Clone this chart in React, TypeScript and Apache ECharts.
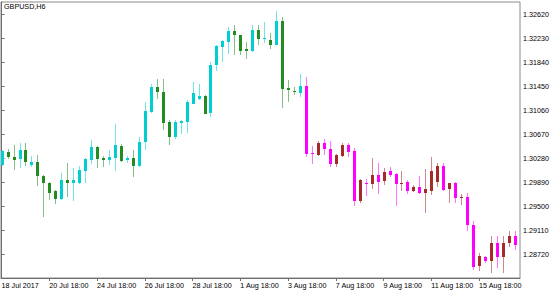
import React, { useEffect, useRef } from "react";
import * as echarts from "echarts";

const symbolTitle = "GBPUSD,H6";

const opens = [
  1.30167, 1.30391, 1.3031, 1.30268, 1.30419, 1.30175, 1.30229, 1.29997, 1.29888, 1.29742,
  1.29619, 1.29927, 1.29878, 1.29878, 1.30083, 1.30256, 1.30462, 1.30294, 1.30256, 1.30284,
  1.30488, 1.30256, 1.30284, 1.30164, 1.30544, 1.3104, 1.31436, 1.31364, 1.30873, 1.30634,
  1.30861, 1.30873, 1.3117, 1.31241, 1.3129, 1.31019, 1.31793, 1.3209, 1.32171, 1.32344,
  1.32279, 1.32052, 1.3203, 1.3236, 1.32224, 1.32203, 1.32127, 1.32511, 1.31424, 1.31368,
  1.31348, 1.31457, 1.30375, 1.30333, 1.30537, 1.3044, 1.30196, 1.30321, 1.305, 1.30407,
  1.2958, 1.29888, 1.29867, 1.30013, 1.29916, 1.30067, 1.30029, 1.29872, 1.29904, 1.29758,
  1.29813, 1.29716, 1.29758, 1.29904, 1.30159, 1.29781, 1.29878, 1.29629, 1.29645, 1.29197,
  1.28525, 1.28678, 1.28606, 1.28905, 1.28671, 1.28905, 1.29012,
];

const closes = [
  1.30402, 1.3031, 1.30256, 1.30419, 1.30229, 1.30229, 1.29997, 1.29878, 1.29716, 1.29619,
  1.29927, 1.29878, 1.29932, 1.30094, 1.30268, 1.30462, 1.30277, 1.30256, 1.303, 1.30495,
  1.30245, 1.30294, 1.30164, 1.30553, 1.31051, 1.31436, 1.31355, 1.30861, 1.30625, 1.30878,
  1.30889, 1.31197, 1.31348, 1.3129, 1.31007, 1.31802, 1.32106, 1.32187, 1.32344, 1.32279,
  1.3203, 1.32025, 1.3236, 1.32224, 1.3224, 1.32127, 1.32511, 1.31413, 1.31387, 1.31351,
  1.31457, 1.30359, 1.30349, 1.30537, 1.3043, 1.30196, 1.30342, 1.30495, 1.30391, 1.29591,
  1.29932, 1.29867, 1.30013, 1.29904, 1.30062, 1.30013, 1.29867, 1.29888, 1.29742, 1.29813,
  1.29716, 1.29781, 1.30067, 1.30159, 1.2977, 1.29878, 1.29629, 1.29645, 1.2919, 1.28516,
  1.28699, 1.28606, 1.28905, 1.28671, 1.28905, 1.29012, 1.28877,
];

const highs = [
  1.30419, 1.3044, 1.30495, 1.30527, 1.30527, 1.30321, 1.30337, 1.30013, 1.29904, 1.2977,
  1.30041, 1.30203, 1.30122, 1.30159, 1.30289, 1.30581, 1.30475, 1.30321, 1.30419, 1.30836,
  1.30516, 1.30321, 1.30419, 1.30625, 1.31202, 1.31489, 1.31566, 1.31575, 1.30905, 1.30905,
  1.30897, 1.31235, 1.31522, 1.31494, 1.31306, 1.31846, 1.32117, 1.32195, 1.32414, 1.32442,
  1.32292, 1.32171, 1.32442, 1.32442, 1.32495, 1.32317, 1.32674, 1.32576, 1.31549, 1.31441,
  1.31656, 1.31603, 1.30483, 1.3056, 1.30602, 1.3056, 1.30359, 1.30527, 1.30527, 1.30446,
  1.29943, 1.29943, 1.30284, 1.30203, 1.30122, 1.30148, 1.30041, 1.30067, 1.29932, 1.29851,
  1.29997, 1.30105, 1.3031, 1.30203, 1.30203, 1.29888, 1.29895, 1.29705, 1.29716, 1.29255,
  1.28743, 1.28699, 1.29012, 1.29023, 1.29023, 1.29093, 1.29093,
];

const lows = [
  1.30159, 1.30268, 1.30094, 1.30122, 1.30159, 1.30148, 1.29835, 1.29327, 1.29607, 1.29543,
  1.29607, 1.29656, 1.2958, 1.29867, 1.29878, 1.30191, 1.30122, 1.30138, 1.30175, 1.30067,
  1.30229, 1.30203, 1.29985, 1.30148, 1.30419, 1.31024, 1.31241, 1.30743, 1.305, 1.30602,
  1.30683, 1.30694, 1.3116, 1.3123, 1.30998, 1.30954, 1.317, 1.31846, 1.31971, 1.31955,
  1.31955, 1.319, 1.32008, 1.32127, 1.32159, 1.32062, 1.32114, 1.311, 1.31197, 1.31316,
  1.31278, 1.30305, 1.30196, 1.30321, 1.30342, 1.30143, 1.30143, 1.303, 1.303, 1.2951,
  1.29554, 1.29672, 1.29781, 1.29705, 1.29851, 1.29985, 1.29499, 1.29758, 1.29705, 1.29726,
  1.29705, 1.29392, 1.29689, 1.29823, 1.29753, 1.29554, 1.29554, 1.29526, 1.29093, 1.28472,
  1.28444, 1.28581, 1.28418, 1.28499, 1.28418, 1.2884, 1.28796,
];

// index of the first bar drawn in the down-trend colour scheme
const downtrendStart = 51;

const timeTickIndices = [0, 8, 16, 24, 32, 40, 48, 56, 64, 72, 80];
const timeTickLabels = [
  "18 Jul 2017",
  "20 Jul 18:00",
  "24 Jul 18:00",
  "26 Jul 18:00",
  "28 Jul 18:00",
  "1 Aug 18:00",
  "3 Aug 18:00",
  "7 Aug 18:00",
  "9 Aug 18:00",
  "11 Aug 18:00",
  "15 Aug 18:00",
];

const priceTicks = [
  1.2872, 1.2911, 1.295, 1.2989, 1.3028, 1.3067, 1.3106, 1.3145, 1.3184, 1.3223, 1.3262,
];

const CYAN = "#00CED1";
const GREEN = "#228B22";
const MAGENTA = "#FF00FF";
const BROWN = "#A52A2A";
const AXIS = "#6e6e6e";
const FONT = "'Liberation Sans', Arial, sans-serif";

export default function App() {
  const ref = useRef<HTMLDivElement>(null);

  useEffect(() => {
    const chart = echarts.init(ref.current!, null, { renderer: "svg" });
    const data = opens.map((o, i) => [i, o, closes[i], lows[i], highs[i]]);

    const renderItem = (params: any, api: any) => {
      const i = api.value(0);
      const o = api.value(1);
      const c = api.value(2);
      const l = api.value(3);
      const h = api.value(4);
      const pO = api.coord([i, o]);
      const pC = api.coord([i, c]);
      const pL = api.coord([i, l]);
      const pH = api.coord([i, h]);
      const cx = Math.round(pO[0]);
      const up = c >= o;
      const downTrend = i >= downtrendStart;
      const color = downTrend ? (up ? BROWN : MAGENTA) : up ? CYAN : GREEN;
      const top = Math.round(Math.min(pO[1], pC[1]));
      const bot = Math.round(Math.max(pO[1], pC[1]));
      return {
        type: "group",
        children: [
          {
            type: "line",
            shape: { x1: cx + 0.5, y1: Math.round(pH[1]), x2: cx + 0.5, y2: Math.round(pL[1]) },
            style: { stroke: color, lineWidth: 1, opacity: 0.55 },
          },
          {
            type: "rect",
            shape: { x: cx - 1, y: top, width: 3, height: Math.max(bot - top, 1) },
            style: { fill: color },
          },
        ],
      };
    };

    chart.setOption({
      animation: false,
      backgroundColor: "#ffffff",
      title: {
        text: symbolTitle,
        left: 4,
        top: 3,
        padding: 0,
        textStyle: { fontSize: 7.2, fontWeight: "normal", color: "#000", fontFamily: FONT },
      },
      grid: {
        left: 1,
        top: 2,
        width: 519,
        height: 276,
        show: true,
        borderColor: "#8a8a8a",
        borderWidth: 1,
        containLabel: false,
        outerBoundsMode: "none",
      },
      xAxis: {
        type: "value",
        min: -0.1,
        max: 86.86,
        splitLine: { show: false },
        axisLine: { show: true, lineStyle: { color: AXIS, width: 1 } },
        axisTick: {
          show: true,
          customValues: timeTickIndices.slice(1),
          length: 3,
          lineStyle: { color: AXIS },
        },
        axisLabel: {
          customValues: timeTickIndices,
          formatter: (v: number) => {
            const k = timeTickIndices.indexOf(Math.round(v));
            return k >= 0 ? timeTickLabels[k] : "";
          },
          align: "left",
          margin: 4,
          fontSize: 7.2,
          color: "#000",
          fontFamily: FONT,
        },
      },
      yAxis: {
        type: "value",
        position: "right",
        min: 1.28337,
        max: 1.3282,
        splitLine: { show: false },
        axisLine: { show: true, lineStyle: { color: AXIS, width: 1 } },
        axisTick: {
          show: true,
          customValues: priceTicks,
          length: 3,
          lineStyle: { color: AXIS },
        },
        axisLabel: {
          customValues: priceTicks,
          formatter: (v: number) => v.toFixed(5),
          margin: 3,
          fontSize: 7.2,
          color: "#000",
          fontFamily: FONT,
        },
      },
      series: [
        {
          type: "custom",
          renderItem,
          data,
          encode: { x: 0, y: [1, 2, 3, 4] },
          clip: true,
        },
      ],
    });

    return () => chart.dispose();
  }, []);

  return (
    <div
      ref={ref}
      style={{ position: "fixed", left: 0, top: 0, width: 560, height: 294 }}
    />
  );
}
